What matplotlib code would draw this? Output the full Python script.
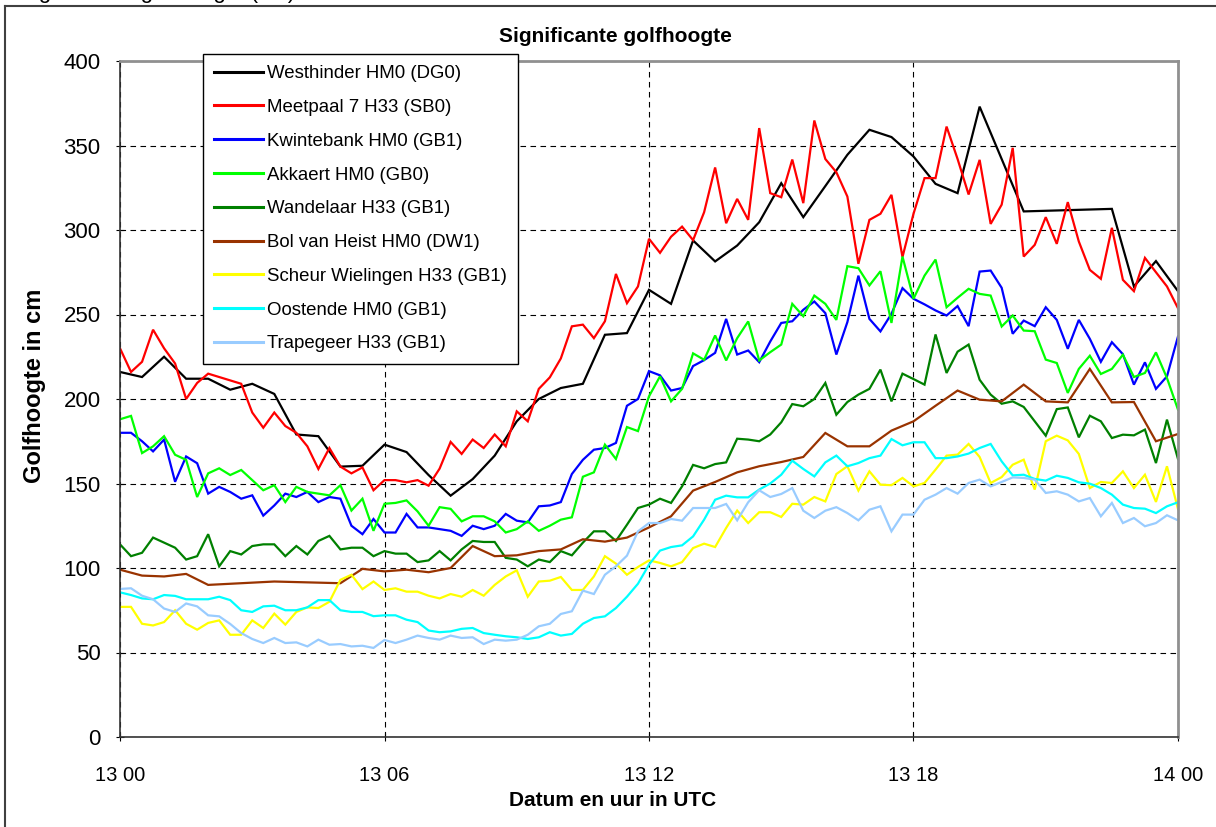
import numpy as np
import matplotlib
matplotlib.use('Agg')
import matplotlib.pyplot as plt
from matplotlib.lines import Line2D

plt.rcParams['font.family'] = ['Liberation Sans', 'DejaVu Sans']

# tijdas: kwartierwaarden van 13 00 tot 14 00 (uren sinds 13 00)
t_kwartier = np.arange(97) * 0.25

# Westhinder: halfuurwaarden met enkele ontbrekende metingen
westhinder_t = [0, 0.5, 1, 1.5, 2, 2.5, 3, 3.5, 4, 4.5, 5, 5.5, 6, 6.5, 7, 7.5,
                8, 8.5, 9, 9.5, 10, 10.5, 11, 11.5, 12, 12.5, 13, 13.5, 14, 14.5,
                15, 15.5, 16, 16.5, 17, 17.5, 18, 18.5, 19, 19.5, 20.5, 22.5, 23,
                23.5, 24]
westhinder = [216, 213, 225, 212, 212, 205.5, 209, 203, 179, 178, 160, 160.5,
              173, 168.6, 155, 142.8, 152.6, 166.5, 186.8, 200, 206.5, 209, 238,
              239, 264.6, 256.3, 293.8, 281.4, 290.8, 304.6, 327.7, 307.6, 326,
              344.5, 359.3, 355, 343.5, 327.3, 321.8, 373, 311, 312.5, 266.6,
              281.6, 263.8]

meetpaal7 = [230, 216, 222, 241, 230, 221, 200, 209.5, 215, 213, 211, 209, 192,
             183, 192, 184, 180, 172, 158.6, 171, 160, 156, 159.5, 146, 152,
             152, 150.7, 152, 148.7, 158.8, 174.6, 167.5, 176, 171, 179, 172,
             192.7, 186.8, 206, 212.8, 224, 243, 244, 236, 246, 274, 256.7,
             266.6, 294.8, 286.5, 296, 302, 294, 310.5, 337, 304, 318.4, 306,
             360.3, 321.8, 319.4, 341.7, 315.9, 364.8, 342, 334.2, 319.8, 280,
             306, 309.6, 320.8, 284, 309.6, 330.7, 330.7, 361.2, 342, 321,
             341.5, 303.6, 315, 348.6, 284.3, 291.2, 307.6, 291.8, 316.5, 293.2,
             276.4, 271.1, 301.3, 270.5, 263.8, 283.5, 275, 266.6, 253.7]

kwintebank = [180, 180, 175, 169, 176, 151, 166, 162, 144, 148, 145, 141, 143,
              131, 137, 144, 142, 145, 139, 142, 141, 125, 120, 129, 121, 121,
              132, 124, 124, 123, 122, 119, 125, 123, 125, 132, 128, 127, 136.5,
              137, 139, 155.6, 164, 170, 171, 174, 196, 200, 216.5, 214, 205,
              206.5, 219.5, 223, 227.3, 247.4, 226.3, 228.7, 221.8, 234, 245,
              246, 252.8, 257.7, 250.8, 226.3, 245.5, 273, 247.4, 240, 250.4,
              265.6, 259.3, 256, 252.4, 249.4, 255, 243.1, 275.4, 276, 265.8,
              238.6, 246.4, 243.1, 254.3, 246.8, 229.7, 246.8, 235.6, 222,
              233.6, 226.5, 208.5, 221.7, 206, 213.4, 237]

akkaert = [188, 190, 168, 172, 178, 167, 164, 142, 156, 159, 155, 158, 152, 146,
           149, 139, 148, 145, 144, 143, 149, 134, 141, 122, 138, 138.5, 140,
           133.5, 125, 136, 135, 127.6, 130.6, 130.6, 127.6, 121, 123, 127.6,
           122, 125, 128.6, 130, 154, 156.6, 173, 164.5, 183.4, 181, 201.6,
           213.4, 198.6, 206, 227, 223.2, 237.6, 222.8, 236, 245.9, 222.8,
           227.7, 232.2, 256.3, 249, 261.2, 256.3, 246.8, 278.6, 277.4, 267.2,
           275.6, 245, 284.3, 259.3, 273, 282.5, 254.3, 259.9, 265.2, 262.2,
           261.2, 242.9, 249.4, 240.5, 240.1, 223.3, 221.3, 203.6, 217.8,
           225.6, 214.8, 217.8, 226.2, 213, 215.4, 227.6, 212.4, 193.7]

wandelaar = [114, 107, 109, 118, 115, 112, 105, 107, 120, 101, 110, 108, 113,
             114, 114, 107, 113, 108, 116, 119, 111, 112, 112, 107, 110, 108.5,
             108.5, 103.5, 104.5, 110, 104.5, 111, 116, 115.4, 115.4, 106, 105,
             101, 105, 103.5, 110, 107.5, 115, 121.7, 121.7, 116, 125.6, 135.5,
             137.5, 141, 138.5, 148.3, 161, 159, 161.5, 162.5, 176.5, 176, 175,
             179, 186.2, 197, 195.7, 200, 209.5, 190.7, 198.2, 202.6, 206,
             217.4, 198.6, 215, 211.8, 208.5, 238.2, 215.4, 228, 232.2, 211.4,
             202.6, 197.2, 198.6, 195.3, 186.8, 178.3, 194, 195, 177.3, 190.1,
             186.8, 176.9, 178.9, 178.5, 181.9, 162.1, 187.8, 164.5]

# Bol van Heist: halfuurwaarden met gaten
bolvanheist_t = [0, 0.5, 1, 1.5, 2, 3.5, 5, 5.5, 6, 6.5, 7, 7.5, 8, 8.5, 9,
                 9.5, 10, 10.5, 11, 11.5, 12, 12.5, 13, 13.5, 14, 14.5, 15,
                 15.5, 16, 16.5, 17, 17.5, 18, 18.5, 19, 19.5, 20, 20.5, 21,
                 21.5, 22, 22.5, 23, 23.5, 24]
bolvanheist = [99, 95.5, 95, 96.5, 90, 92, 91, 99.5, 98, 99, 97.5, 100, 113,
               107, 107.5, 110, 111, 117, 115.6, 118, 124, 130.6, 145.8, 150.9,
               156.6, 160.2, 162.7, 165.7, 179.9, 172, 172, 181.3, 186.8, 196,
               205, 199.6, 198.6, 208.5, 198.6, 198, 217.8, 198, 198.2, 175,
               179.3]

scheur = [77, 77, 67, 66, 68, 75, 67, 63.5, 67.5, 69, 60.5, 60.5, 69, 64.5, 73,
          66.5, 74, 76.7, 76.3, 80, 93, 96, 87.5, 92, 87, 88, 86, 86, 83.6, 82,
          84.6, 83, 87, 83.6, 90, 95, 98.6, 83, 92, 92.5, 94.7, 87, 87, 95,
          107, 102.6, 96, 100.6, 104.5, 103, 101, 103.5, 111.8, 114.4, 112.4,
          123.7, 134, 126.6, 133, 133, 130.2, 138, 137.5, 142, 139.4, 155.6,
          160.2, 145.8, 157.2, 149.3, 149, 153.3, 148.3, 150.3, 158.2, 166.5,
          167.1, 173.4, 165.7, 150.3, 153.8, 161.1, 164.1, 146.4, 175, 178.3,
          175.5, 167.5, 147.3, 150.9, 150.3, 157.2, 147.3, 155.2, 139.1,
          160.2, 134.9]

oostende = [85.6, 84, 82, 81.5, 84, 83.5, 81.5, 81.5, 81.5, 83, 81, 75, 74,
            77.3, 77.7, 75, 75, 76.7, 81, 81, 75, 74, 74, 71.5, 72, 72, 69.4,
            68, 63, 62, 62.5, 64, 64.5, 61.5, 60.5, 59.6, 59, 58, 59, 62, 60,
            61, 67, 70.4, 71.4, 76.3, 83, 90.7, 102, 110.3, 112.4, 113.4, 118.7,
            128.6, 140.4, 142.8, 141.8, 141.8, 146.4, 150, 155.2, 163.5, 158.6,
            154.2, 162.5, 166.5, 160.2, 162.1, 165, 166.5, 176.3, 172.6, 174.4,
            174.4, 165, 165, 166, 167.7, 171, 173.4, 163.1, 154.8, 155.2, 152.7,
            151.7, 154.6, 153.3, 150.7, 149.9, 147.3, 143.4, 137.5, 135.5,
            135.1, 132.5, 136.5, 138.9]

trapegeer = [87.6, 88, 83.6, 81.5, 76, 74, 79, 77.3, 72, 71.4, 66.9, 61.5, 58,
             55.6, 58.6, 55.6, 56, 53.6, 57.6, 54.6, 55, 53.6, 54, 52.7, 57.4,
             55.6, 57.6, 60, 58.6, 57.6, 60, 58.6, 59, 55, 57.6, 57, 57.6, 60.5,
             65.5, 67, 72.8, 74.4, 86.6, 84.6, 96, 101, 107.3, 121.7, 126.6,
             126.6, 129, 128, 135.5, 135.5, 135.5, 137.9, 128.2, 138.9, 146, 142,
             143.8, 147.3, 133.9, 129.6, 133.9, 136, 132.5, 128.2, 134.5, 136.5,
             121.7, 131.6, 131.6, 140.4, 143.4, 147.3, 144, 150.3, 152.3, 148.3,
             150.9, 153.6, 153.3, 152.3, 144.4, 145.4, 143.4, 139.4, 141.4,
             130.6, 138.5, 126.6, 129.6, 124.7, 126.6, 131.2, 128.2]

series = [
    ('Westhinder HM0 (DG0)', westhinder_t, westhinder, '#000000'),
    ('Meetpaal 7 H33 (SB0)', t_kwartier, meetpaal7, '#FF0000'),
    ('Kwintebank HM0 (GB1)', t_kwartier, kwintebank, '#0000FF'),
    ('Akkaert HM0 (GB0)', t_kwartier, akkaert, '#00FF00'),
    ('Wandelaar H33 (GB1)', t_kwartier, wandelaar, '#008000'),
    ('Bol van Heist HM0 (DW1)', bolvanheist_t, bolvanheist, '#993300'),
    ('Scheur Wielingen H33 (GB1)', t_kwartier, scheur, '#FFFF00'),
    ('Oostende HM0 (GB1)', t_kwartier, oostende, '#00FFFF'),
    ('Trapegeer H33 (GB1)', t_kwartier, trapegeer, '#99CCFF'),
]

xtick_pos = [0, 6, 12, 18, 24]
xtick_labels = ['13 00', '13 06', '13 12', '13 18', '14 00']

W, H = 1216, 827
fig = plt.figure(figsize=(W / 100, H / 100), dpi=100)
ax = fig.add_axes([120 / W, 1 - 737 / H, (1178 - 120) / W, (737 - 61) / H])

for name, t, v, c in series:
    ax.plot(t, v, color=c, lw=1.6, label=name, solid_joinstyle='miter')

ax.set_xlim(0, 24)
ax.set_ylim(0, 400)
ax.set_xticks(xtick_pos)
ax.set_xticklabels(xtick_labels)
ax.set_yticks(range(0, 401, 50))
ax.tick_params(axis='y', direction='inout', length=6, width=0.8, labelsize=16, pad=11)
ax.tick_params(axis='x', direction='inout', length=6, width=0.8, labelsize=14.5, pad=18)
ax.grid(True, color='black', linestyle=(0, (5, 4)), lw=0.8)

for s in ['left', 'bottom']:
    ax.spines[s].set_color('#333333')
    ax.spines[s].set_linewidth(1.2)
for s in ['top', 'right']:
    ax.spines[s].set_color('#909090')
    ax.spines[s].set_linewidth(2)

fig.text(615 / W, 1 - 36 / H, 'Significante golfhoogte', ha='center', va='center',
         fontsize=15, fontweight='bold')
fig.text(613 / W, 1 - 800 / H, 'Datum en uur in UTC', ha='center', va='center',
         fontsize=15, fontweight='bold')
fig.text(35 / W, 1 - 386 / H, 'Golfhoogte in cm', ha='center', va='center',
         rotation=90, fontsize=17, fontweight='bold')

# onderkant van een grotere kop die boven de grafiek buiten beeld valt
fig.text(19 / W, 1 + 2 / H, 'Significante golfhoogte (cm)', ha='left',
         va='baseline', fontsize=16)

# kader rond de grafiek
fig.add_artist(Line2D([4.5 / W, 4.5 / W], [0, 1 - 6 / H], color='#404040', lw=1.5))
fig.add_artist(Line2D([4.5 / W, 1], [1 - 6 / H, 1 - 6 / H], color='#404040', lw=1.5))

leg = ax.legend(loc='upper left', bbox_to_anchor=(203 / W, 1 - 54 / H),
                bbox_transform=fig.transFigure, fontsize=13.4, frameon=True,
                fancybox=False, framealpha=1, edgecolor='black', borderaxespad=0,
                handlelength=2.6, handletextpad=0.25, labelspacing=0.9,
                borderpad=0.6)
leg.get_frame().set_linewidth(1.0)
for ln in leg.get_lines():
    ln.set_linewidth(2.2)

fig.savefig('out.png', dpi=100)
